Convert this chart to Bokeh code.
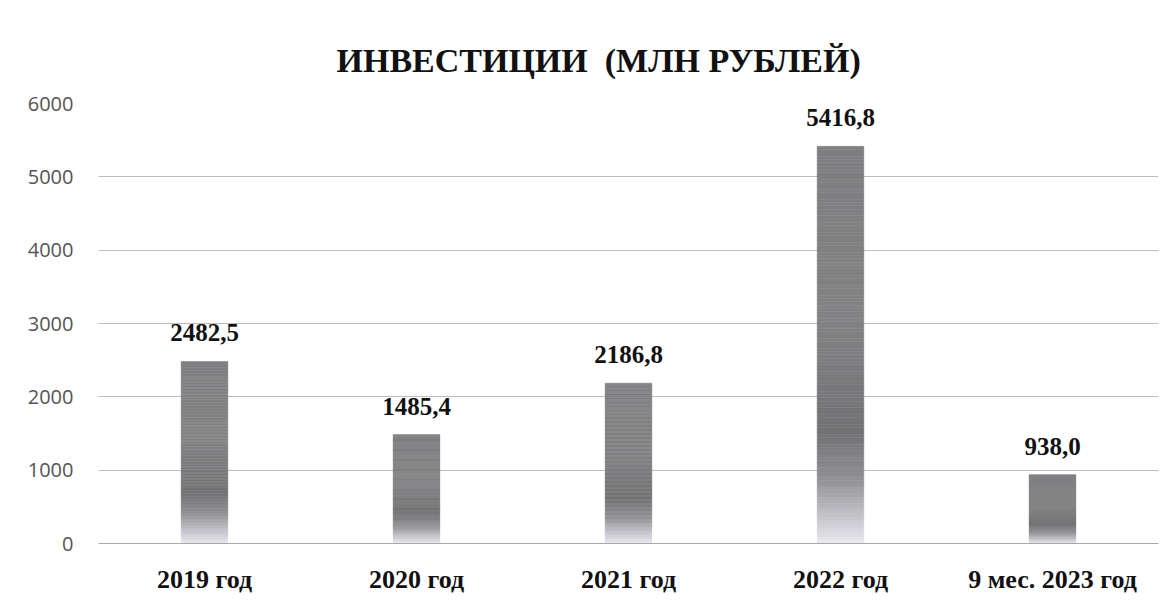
from bokeh.plotting import figure
from bokeh.models import ColumnDataSource, FactorRange, SingleIntervalTicker
from bokeh.core.properties import value
from bokeh.embed import file_html
from bokeh.resources import INLINE

categories = ["2019 год", "2020 год", "2021 год", "2022 год", "9 мес. 2023 год"]
values = [2482.5, 1485.4, 2186.8, 5416.8, 938.0]
labels = ["2482,5", "1485,4", "2186,8", "5416,8", "938,0"]
title_text = "ИНВЕСТИЦИИ\u00a0\u00a0(МЛН РУБЛЕЙ)"

# gradient stops (style): fraction of bar height -> grey level
stops = [(0.0, (234, 234, 240)), (0.06, (200, 200, 206)), (0.16, (146, 146, 150)),
         (0.28, (114, 114, 116)), (0.55, (130, 130, 132)), (1.0, (126, 126, 128))]

def grad(t):
    for (t0, c0), (t1, c1) in zip(stops[:-1], stops[1:]):
        if t0 <= t <= t1:
            f = (t - t0) / (t1 - t0)
            c = [int(round(a + (b - a) * f)) for a, b in zip(c0, c1)]
            return "#%02x%02x%02x" % tuple(c)
    return "#%02x%02x%02x" % stops[-1][1]

N = 120
xs, bots, tops, cols = [], [], [], []
for cat, v in zip(categories, values):
    for k in range(N):
        xs.append(cat)
        bots.append(v * k / N)
        tops.append(v * (k + 1) / N)
        cols.append(grad((k + 0.5) / N))
slices = ColumnDataSource(dict(x=xs, bottom=bots, top=tops, color=cols))
lab = ColumnDataSource(dict(x=categories, y=values, t=labels))

p = figure(x_range=FactorRange(*categories), y_range=(0, 6000),
           width=1168, height=598, output_backend="svg", toolbar_location=None,
           min_border_left=98, min_border_right=10, min_border_top=103, min_border_bottom=55)
p.x_range.range_padding = 0.0

p.title.text = title_text
p.title.align = "left"
p.title.offset = 238
p.title.text_font = "Liberation Serif"
p.title.text_font_size = "34px"
p.title.text_font_style = "bold"
p.title.text_color = "#111111"
p.title.standoff = 49

p.vbar(x="x", bottom="bottom", top="top", width=0.22, source=slices,
       fill_color="color", line_color="color", line_width=0.5)

p.text(x="x", y="y", text="t", source=lab, text_align="center", text_baseline="bottom",
       y_offset=-20, text_font=value("Liberation Serif"), text_font_style="bold",
       text_font_size="25px", text_color="#111111")

p.outline_line_color = None
p.xgrid.grid_line_color = None
p.ygrid.grid_line_color = "#bdbdbd"
p.ygrid.grid_line_width = 1

p.yaxis.ticker = SingleIntervalTicker(interval=1000)
p.yaxis.axis_line_color = None
p.yaxis.major_tick_line_color = None
p.yaxis.minor_tick_line_color = None
p.yaxis.major_tick_out = 0
p.yaxis.major_tick_in = 0
p.yaxis.major_label_text_font = "Open Sans"
p.yaxis.major_label_text_font_size = "20px"
p.yaxis.major_label_text_color = "#555555"
p.yaxis.major_label_standoff = 21

p.xaxis.axis_line_color = "#a8a8a8"
p.xaxis.major_tick_line_color = None
p.xaxis.minor_tick_line_color = None
p.xaxis.major_tick_out = 0
p.xaxis.major_tick_in = 0
p.xaxis.major_label_text_font = "Liberation Serif"
p.xaxis.major_label_text_font_style = "bold"
p.xaxis.major_label_text_font_size = "26px"
p.xaxis.major_label_text_color = "#111111"
p.xaxis.major_label_standoff = 21

open("out.html", "w").write(file_html(p, INLINE))
